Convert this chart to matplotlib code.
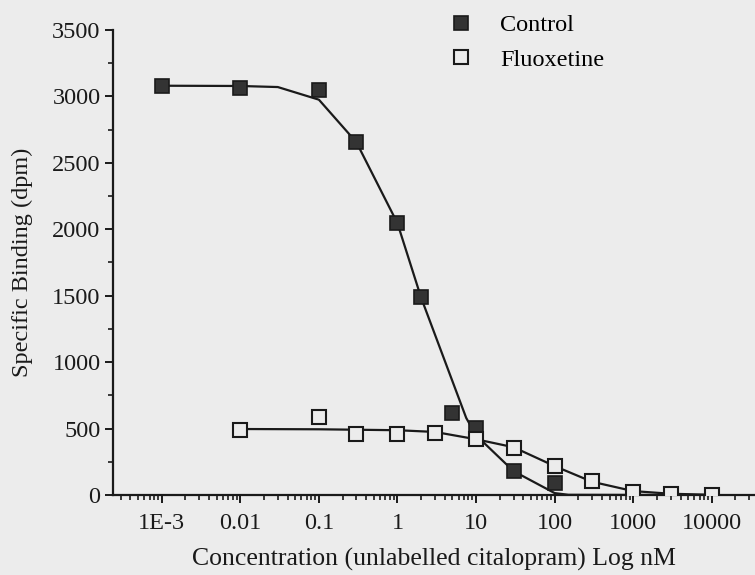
import matplotlib
matplotlib.use("Agg")
import matplotlib.pyplot as plt
import matplotlib.ticker as mticker
import numpy as np

# Data
control_conc = [1e-3, 0.01, 0.1, 0.3, 1, 2, 5, 10, 30, 100, 1000]
control_vals = [3075, 3060, 3050, 2660, 2045, 1488, 620, 505, 180, 90, 12]

fluox_conc = [0.01, 0.1, 0.3, 1, 3, 10, 30, 100, 300, 1000, 3000, 10000]
fluox_vals = [492, 590, 462, 462, 470, 424, 356, 220, 106, 23, 8, 0]

# Fitted curves
control_fit_conc = [1e-3, 0.01, 0.03, 0.1, 0.3, 1, 2, 7.5, 10, 30, 100, 150, 10000]
control_fit_vals = [3080, 3078, 3070, 2975, 2655, 2045, 1485, 580, 450, 180, 15, 2, 0]

fluox_fit_conc = [0.01, 0.1, 1, 3, 10, 30, 100, 300, 1000, 3000, 10000]
fluox_fit_vals = [497, 495, 488, 475, 420, 360, 218, 100, 30, 10, 2]

xtick_vals = [1e-3, 0.01, 0.1, 1, 10, 100, 1000, 10000]
xtick_labels = ["1E-3", "0.01", "0.1", "1", "10", "100", "1000", "10000"]
ytick_vals = [0, 500, 1000, 1500, 2000, 2500, 3000, 3500]

bg = "#ececec"
ink = "#1a1a1a"
plt.rcParams["font.family"] = ["Liberation Serif", "DejaVu Serif"]

fig = plt.figure(figsize=(7.55, 5.75), dpi=100, facecolor=bg)
ax = fig.add_axes([0.1497, 0.139, 0.8503, 0.809])
ax.set_facecolor(bg)

ax.plot(control_fit_conc, control_fit_vals, color=ink, lw=1.6, zorder=2)
ax.plot(fluox_fit_conc, fluox_fit_vals, color=ink, lw=1.6, zorder=2)
ax.plot(control_conc, control_vals, ls="none", marker="s", ms=9.5,
        mfc="#333333", mec=ink, mew=1.2, zorder=3, label="Control")
ax.plot(fluox_conc, fluox_vals, ls="none", marker="s", ms=9.5,
        mfc=bg, mec=ink, mew=1.5, zorder=4, label="Fluoxetine")

ax.set_xscale("log")
ax.set_xlim(10 ** -3.62, 10 ** 4.55)
ax.set_ylim(0, 3500)

ax.set_xticks(xtick_vals)
ax.set_xticklabels(xtick_labels)
ax.xaxis.set_minor_locator(mticker.LogLocator(base=10, subs=np.arange(2, 10), numticks=30))
ax.xaxis.set_minor_formatter(mticker.NullFormatter())
ax.set_yticks(ytick_vals)
ax.yaxis.set_minor_locator(mticker.MultipleLocator(250))

for s in ["top", "right"]:
    ax.spines[s].set_visible(False)
for s in ["left", "bottom"]:
    ax.spines[s].set_linewidth(1.6)
    ax.spines[s].set_color(ink)

ax.tick_params(axis="both", which="major", direction="out", length=6, width=1.4,
               labelsize=17.5, colors=ink, pad=3)
ax.tick_params(axis="both", which="minor", direction="out", length=3.5, width=1.2,
               colors=ink)
ax.tick_params(axis="x", which="major", pad=7)

ax.set_xlabel("Concentration (unlabelled citalopram) Log nM", fontsize=18.5,
              color=ink, labelpad=10)
ax.set_ylabel("Specific Binding (dpm)", fontsize=17.5, color=ink, labelpad=14)

leg = ax.legend(loc="upper left", bbox_to_anchor=(0.5195, 1.034), frameon=False,
                fontsize=17.5, handletextpad=1.0, labelspacing=0.52,
                handlelength=1.2, borderaxespad=0, borderpad=0)

fig.savefig("out.png", dpi=100, facecolor=bg)
